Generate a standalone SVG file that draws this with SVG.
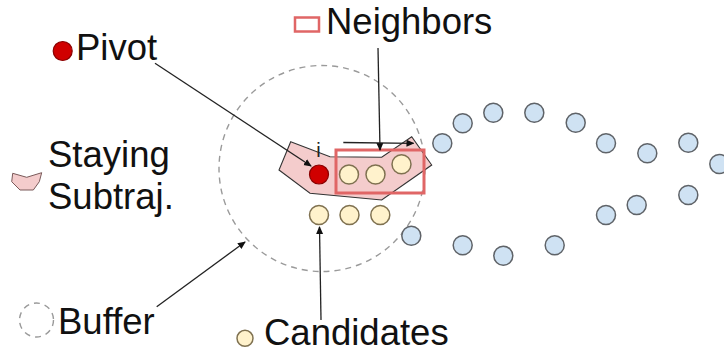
<svg xmlns="http://www.w3.org/2000/svg" width="724" height="353" viewBox="0 0 724 353">
<style>
.lbl{font-family:"Liberation Sans",Arial,sans-serif;font-size:36.5px;fill:#111}
.blue{fill:#cfe2f3;stroke:#5f6368;stroke-width:1.5}
.yel{fill:#fff2cc;stroke:#7f7150;stroke-width:1.5}
.red{fill:#d00000;stroke:#8a0000;stroke-width:1.2}
.conn{stroke:#222;stroke-width:1.3;fill:none;marker-end:url(#ah)}
.buf{fill:none;stroke:#9a9a9a;stroke-width:1.4;stroke-dasharray:6 5}
</style>
<defs>
<marker id="ah" markerWidth="8" markerHeight="8" refX="7" refY="4" orient="auto" markerUnits="userSpaceOnUse">
<path d="M0,0.5 L8,4 L0,7.5 Z" fill="#111"/>
</marker>
</defs>
<g id="buffer">
<circle class="buf" cx="322" cy="168.5" r="103"/>
</g>
<g id="staying-subtraj">
<polygon points="290.7,141.7 330,156.7 381.7,157.3 411.7,136.7 431.7,165 381.7,200 310,193.3 279,170" fill="#f4cccc" stroke="#333" stroke-width="1.1"/>
</g>
<g id="pivot">
<circle class="red" cx="319" cy="174.5" r="9.5"/>
<text x="318.5" y="157" font-family="Liberation Sans,Arial,sans-serif" font-size="20" fill="#222" text-anchor="middle">i</text>
</g>
<g id="neighbors">
<circle class="yel" cx="349" cy="174.5" r="9.5"/>
<circle class="yel" cx="375.5" cy="174.5" r="9.5"/>
<circle class="yel" cx="401.5" cy="164.3" r="9.5"/>
<rect x="336" y="150" width="88" height="43" fill="none" stroke="#e06666" stroke-width="3"/>
</g>
<g id="candidates">
<circle class="yel" cx="319" cy="215" r="9.5"/>
<circle class="yel" cx="349.5" cy="215" r="9.5"/>
<circle class="yel" cx="380.3" cy="215" r="9.5"/>
</g>
<g id="trajectory">
<circle class="blue" cx="442.3" cy="143.3" r="9.5"/>
<circle class="blue" cx="462.7" cy="123.3" r="9.5"/>
<circle class="blue" cx="493.3" cy="112.7" r="9.5"/>
<circle class="blue" cx="534.3" cy="112.7" r="9.5"/>
<circle class="blue" cx="575.7" cy="122.7" r="9.5"/>
<circle class="blue" cx="606" cy="143.3" r="9.5"/>
<circle class="blue" cx="647.3" cy="153.3" r="9.5"/>
<circle class="blue" cx="688.3" cy="142.7" r="9.5"/>
<circle class="blue" cx="719.3" cy="164" r="9.5"/>
<circle class="blue" cx="688.3" cy="195" r="9.5"/>
<circle class="blue" cx="636.7" cy="205" r="9.5"/>
<circle class="blue" cx="606" cy="215" r="9.5"/>
<circle class="blue" cx="411.3" cy="235.7" r="9.5"/>
<circle class="blue" cx="462.7" cy="245.3" r="9.5"/>
<circle class="blue" cx="503.3" cy="255.7" r="9.5"/>
<circle class="blue" cx="554.7" cy="245.3" r="9.5"/>
</g>
<g id="legend-pivot">
<circle class="red" cx="62.7" cy="51" r="9.5"/>
<text class="lbl" x="76" y="60">Pivot</text>
</g>
<g id="legend-neighbors">
<rect x="295" y="17.5" width="24" height="14" fill="none" stroke="#e06666" stroke-width="2.5"/>
<text class="lbl" x="326" y="34">Neighbors</text>
</g>
<g id="legend-staying">
<polygon points="12.7,173.3 26.7,177.3 41.7,172.7 39.3,181.7 33.3,190 20,190 11.7,181.7" fill="#f4cccc" stroke="#7a5a5a" stroke-width="1"/>
<text class="lbl" x="48" y="166.5">Staying</text>
<text class="lbl" x="48" y="208.5">Subtraj.</text>
</g>
<g id="legend-buffer">
<circle class="buf" cx="36.5" cy="320" r="17" stroke-dasharray="5 4"/>
<text class="lbl" x="58" y="333.5">Buffer</text>
</g>
<g id="legend-candidates">
<circle class="yel" cx="245" cy="338.3" r="8"/>
<text class="lbl" x="264" y="345">Candidates</text>
</g>
<g id="connectors">
<line class="conn" x1="155" y1="63.3" x2="311" y2="166"/>
<line class="conn" x1="378" y1="48" x2="380" y2="150"/>
<line class="conn" x1="321" y1="320" x2="319.5" y2="227"/>
<line class="conn" x1="156.7" y1="306.7" x2="245" y2="242"/>
<line class="conn" x1="343.3" y1="142.5" x2="413.5" y2="143.3"/>
</g>
</svg>
